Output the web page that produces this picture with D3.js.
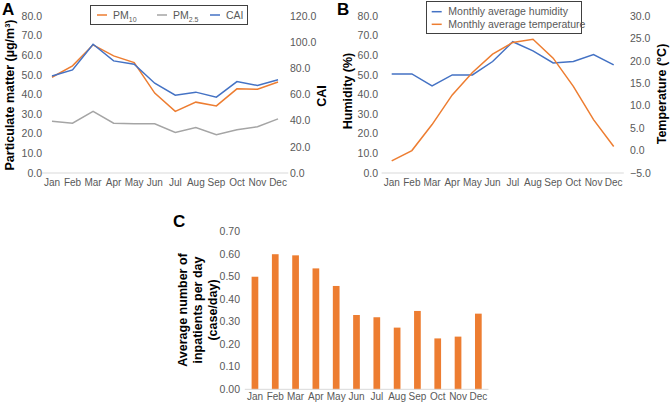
<!DOCTYPE html>
<html><head><meta charset="utf-8">
<script src="https://cdn.jsdelivr.net/npm/d3@7"></script>
<style>
body{margin:0;background:#fff;}
text{font-family:"Liberation Sans",Arial,sans-serif;}
</style></head>
<body><svg id="c" width="670" height="403"></svg>
<script>
const months = ["Jan","Feb","Mar","Apr","May","Jun","Jul","Aug","Sep","Oct","Nov","Dec"];
const pm10 = [48.8,54.6,65.3,59.7,56.3,40.7,31.4,36.1,34.2,42.9,42.7,46.4];
const pm25 = [26.4,25.4,31.4,25.4,25.1,25.1,20.7,23.2,19.5,22.0,23.6,27.6];
const cai = [74.2,78.8,98.4,85.7,83.1,68.6,59.5,61.8,58.0,69.9,66.9,71.2];
const humidity = [50.5,50.5,44.4,50.0,50.0,56.8,66.9,62.2,56.1,56.8,60.3,55.1];
const temperature = [-2.3,0.0,5.8,12.4,17.4,21.5,24.1,24.8,20.6,14.3,6.9,0.9];
const inpatients = [0.50,0.60,0.595,0.537,0.459,0.33,0.32,0.274,0.348,0.226,0.234,0.336];
const ticksA = [0,10,20,30,40,50,60,70,80];
const ticksCAI = [0,20,40,60,80,100,120];
const ticksTemp = [-5,0,5,10,15,20,25,30];
const ticksC = [0,0.1,0.2,0.3,0.4,0.5,0.6,0.7];

const ORANGE="#ED7D31", GRAY="#A5A5A5", BLUE="#4472C4", TXT="#595959";
const svg = d3.select("#c");

function tickLabels(g, scale, ticks, x, anchor, fmt){
  g.selectAll(null).data(ticks).enter().append("text")
   .attr("x", x).attr("y", d=>scale(d)).attr("dy","0.35em")
   .attr("text-anchor", anchor).attr("font-size",10.5).attr("fill",TXT)
   .text(fmt);
}
function xAxis(g, xs, y, x0, x1, off){
  g.append("line").attr("x1",x0).attr("x2",x1).attr("y1",y).attr("y2",y)
   .attr("stroke","#D9D9D9").attr("stroke-width",1);
  g.selectAll(null).data(months).enter().append("text")
   .attr("x", d=>xs(d)+xs.bandwidth()/2).attr("y", y+(off||13))
   .attr("text-anchor","middle").attr("font-size",10).attr("fill",TXT).text(d=>d);
}
function vTitle(g, x, y, lines, size, lh){
  const t = g.append("text").attr("transform",`translate(${x},${y}) rotate(-90)`)
   .attr("text-anchor","middle").attr("font-size",size||12.5).attr("font-weight","bold").attr("fill","#000");
  const L = lh||15;
  lines.forEach((l,i)=>{ t.append("tspan").attr("x",0).attr("y", (i-(lines.length-1)/2)*L).attr("dy","0.35em").text(l); });
  return t;
}
function lineOf(xs, ys, data){
  return d3.line().x((d,i)=>xs(months[i])+xs.bandwidth()/2).y(d=>ys(d))(data);
}

// ---------- Panel A ----------
{
  const g = svg.append("g");
  const xs = d3.scaleBand().domain(months).range([41.7,288.3]);
  const yl = d3.scaleLinear().domain([0,80]).range([173,16]);
  const yr = d3.scaleLinear().domain([0,120]).range([173,16]);
  xAxis(g, xs, 173, 41.7, 288.3);
  tickLabels(g, yl, ticksA, 42, "end", d=>d.toFixed(1));
  tickLabels(g, yr, ticksCAI, 290, "start", d=>d.toFixed(1));
  g.append("path").attr("d",lineOf(xs,yl,pm25)).attr("fill","none").attr("stroke",GRAY).attr("stroke-width",1.5);
  g.append("path").attr("d",lineOf(xs,yl,pm10)).attr("fill","none").attr("stroke",ORANGE).attr("stroke-width",1.5);
  g.append("path").attr("d",lineOf(xs,yr,cai)).attr("fill","none").attr("stroke",BLUE).attr("stroke-width",1.5);
  g.append("text").attr("x",2).attr("y",15).attr("font-size",17).attr("font-weight","bold").text("A");
  vTitle(g, 10, 95, ["Particulate matter (\u00b5g/m\u00b3)"], 12.5);
  vTitle(g, 322, 96, ["CAI"], 12.5);
  // legend
  g.append("rect").attr("x",90.5).attr("y",5.5).attr("width",157).attr("height",19)
   .attr("fill","#fff").attr("stroke","#404040").attr("stroke-width",1);
  const items=[{c:ORANGE,x:97,t:"PM",s:"10"},{c:GRAY,x:157,t:"PM",s:"2.5"},{c:BLUE,x:210,t:"CAI",s:null}];
  items.forEach(it=>{
    g.append("line").attr("x1",it.x).attr("x2",it.x+10).attr("y1",15).attr("y2",15).attr("stroke",it.c).attr("stroke-width",1.5);
    const t=g.append("text").attr("x",it.x+16).attr("y",18.5).attr("font-size",10.5).attr("fill",TXT).text(it.t);
    if(it.s){ t.append("tspan").attr("font-size",7).attr("dy",3).text(it.s); }
  });
}

// ---------- Panel B ----------
{
  const g = svg.append("g");
  const xs = d3.scaleBand().domain(months).range([381.6,623.8]);
  const yl = d3.scaleLinear().domain([0,80]).range([173,16]);
  const yr = d3.scaleLinear().domain([-5,30]).range([173,16]);
  xAxis(g, xs, 173, 381.6, 623.8);
  tickLabels(g, yl, ticksA, 378, "end", d=>d.toFixed(1));
  tickLabels(g, yr, ticksTemp, 630, "start", d=> d<0 ? "\u2212"+Math.abs(d).toFixed(1) : d.toFixed(1));
  g.append("path").attr("d",lineOf(xs,yl,humidity)).attr("fill","none").attr("stroke",BLUE).attr("stroke-width",1.5);
  g.append("path").attr("d",lineOf(xs,yr,temperature)).attr("fill","none").attr("stroke",ORANGE).attr("stroke-width",1.5);
  g.append("text").attr("x",337).attr("y",15).attr("font-size",17).attr("font-weight","bold").text("B");
  vTitle(g, 348, 91, ["Humidity (%)"], 12.5);
  vTitle(g, 662, 94, ["Temperature (\u00b0C)"], 12.5);
  g.append("rect").attr("x",426.5).attr("y",1.5).attr("width",155).attr("height",32)
   .attr("fill","#fff").attr("stroke","#404040").attr("stroke-width",1);
  [{c:BLUE,y:11.7,t:"Monthly average humidity"},{c:ORANGE,y:24.3,t:"Monthly average temperature"}].forEach(it=>{
    g.append("line").attr("x1",431.7).attr("x2",441.7).attr("y1",it.y).attr("y2",it.y).attr("stroke",it.c).attr("stroke-width",1.5);
    g.append("text").attr("x",448.3).attr("y",it.y).attr("dy","0.35em").attr("font-size",10.5).attr("fill",TXT).text(it.t);
  });
}

// ---------- Panel C ----------
{
  const g = svg.append("g");
  const xs = d3.scaleBand().domain(months).range([244.8,488.5]).paddingInner(0.67).paddingOuter(0.335);
  const y = d3.scaleLinear().domain([0,0.7]).range([389.3,231.7]);
  g.selectAll(null).data(inpatients).enter().append("rect")
   .attr("x",(d,i)=>xs(months[i])).attr("width",xs.bandwidth())
   .attr("y",d=>y(d)).attr("height",d=>y(0)-y(d)).attr("fill",ORANGE);
  const xl = d3.scaleBand().domain(months).range([244.8,488.5]);
  xAxis(g, xl, 389.3, 244.8, 488.5, 11);
  tickLabels(g, y, ticksC, 240, "end", d=>d.toFixed(2));
  g.append("text").attr("x",173).attr("y",227).attr("font-size",17).attr("font-weight","bold").text("C");
  vTitle(g, 198, 310, ["Average number of","inpatients per day","(case/day)"], 12.5, 15);
}
</script></body></html>
